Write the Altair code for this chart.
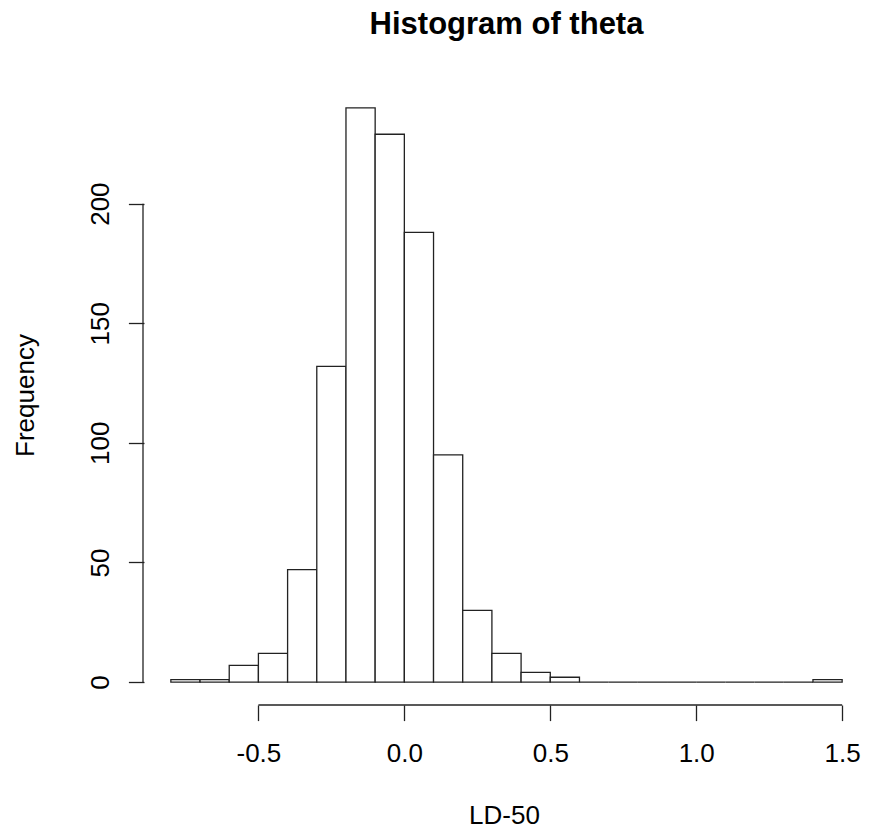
import altair as alt
import pandas as pd

# Histogram bins (width 0.1) and counts
bin_starts = [-0.8, -0.7, -0.6, -0.5, -0.4, -0.3, -0.2, -0.1, 0.0, 0.1, 0.2, 0.3, 0.4, 0.5,
              0.6, 0.7, 0.8, 0.9, 1.0, 1.1, 1.2, 1.3, 1.4]
bin_ends = [-0.7, -0.6, -0.5, -0.4, -0.3, -0.2, -0.1, 0.0, 0.1, 0.2, 0.3, 0.4, 0.5, 0.6,
            0.7, 0.8, 0.9, 1.0, 1.1, 1.2, 1.3, 1.4, 1.5]
counts = [1, 1, 7, 12, 47, 132, 240, 229, 188, 95, 30, 12, 4, 2,
          0, 0, 0, 0, 0, 0, 0, 0, 1]

x_ticks = [-0.5, 0.0, 0.5, 1.0, 1.5]
y_ticks = [0, 50, 100, 150, 200]

title_text = "Histogram of theta"
x_title = "LD-50"
y_title = "Frequency"

FONT = "Liberation Sans"
W, H = 725, 620
x_dom = [-0.892, 1.592]
y_dom = [-9.6, 249.6]
INK = "#222222"

df = pd.DataFrame({"start": bin_starts, "end": bin_ends, "count": counts})

xs = alt.Scale(domain=x_dom, nice=False, zero=False)
ys = alt.Scale(domain=y_dom, nice=False, zero=False)

bars = alt.Chart(df).mark_rect(fill="white", stroke=INK, strokeWidth=1.3).encode(
    x=alt.X("start:Q", scale=xs, axis=alt.Axis(
        values=x_ticks, domain=False, grid=False, tickSize=15.6,
        labelExpr="datum.value < 0 ? '-' + format(-datum.value, '.1f') : format(datum.value, '.1f')",
        tickColor=INK, tickWidth=1.3, labelPadding=20, labelFontSize=26,
        labelFont=FONT, labelColor="black", labelFlush=False, labelOverlap=False,
        title=x_title, titleFont=FONT, titleFontSize=26, titleFontWeight="normal",
        titleColor="black", titleX=360, titleY=118, titleBaseline="alphabetic",
        titleAlign="center")),
    x2="end:Q",
    y=alt.Y("count:Q", scale=ys, axis=alt.Axis(
        values=y_ticks, domain=False, grid=False, tickSize=15.6,
        tickColor=INK, tickWidth=1.3, labelPadding=20, labelFontSize=26,
        labelFont=FONT, labelColor="black", labelAngle=270, labelAlign="center",
        labelBaseline="alphabetic", labelFlush=False, labelOverlap=False,
        title=y_title, titleFont=FONT, titleFontSize=26, titleFontWeight="normal",
        titleColor="black", titleAngle=270, titleX=-111, titleY=310,
        titleBaseline="alphabetic", titleAlign="center")),
    y2=alt.datum(0),
)

ydf = pd.DataFrame({"lo": [min(y_ticks)], "hi": [max(y_ticks)]})
xdf = pd.DataFrame({"lo": [min(x_ticks)], "hi": [max(x_ticks)]})

y_axis_line = alt.Chart(ydf).mark_rule(color=INK, strokeWidth=1.3).encode(
    y=alt.Y("lo:Q", scale=ys), y2="hi:Q", x=alt.value(-1))
x_axis_line = alt.Chart(xdf).mark_rule(color=INK, strokeWidth=1.3).encode(
    x=alt.X("lo:Q", scale=xs), x2="hi:Q", y=alt.value(H))

chart = alt.layer(bars, y_axis_line, x_axis_line).properties(
    width=W, height=H,
    title=alt.Title(title_text, font=FONT, fontSize=31, fontWeight="bold",
                    color="black", anchor="middle", offset=20, baseline="alphabetic"),
    autosize=alt.AutoSizeParams(type="none"),
    padding={"left": 144, "top": 85, "right": 3, "bottom": 124},
    background="white",
).configure_view(stroke=None)

chart.save("out.html", embed_options={"renderer": "svg", "actions": False})
